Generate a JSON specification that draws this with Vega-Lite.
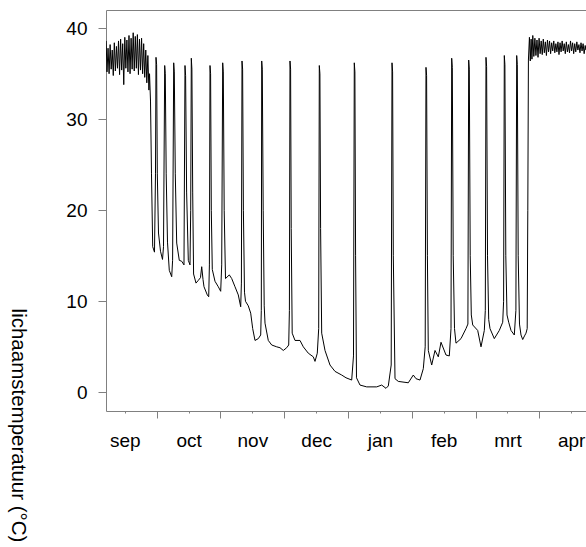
{
"$schema": "https://vega.github.io/schema/vega-lite/v6.json",
"width": 480,
"height": 401,
"autosize": {"type": "none"},
"padding": {"left": 106, "top": 10, "right": 0, "bottom": 136},
"background": "white",
"config": {"view": {"stroke": null}, "font": "Liberation Sans"},
"resolve": {"axis": {"x": "independent"}},
"layer": [
{
"data": {"values": [
{"day":6.3,"temp":38.6},{"day":6.7,"temp":35.2},{"day":7.2,"temp":37.8},{"day":7.7,"temp":35.0},{"day":8.2,"temp":38.2},{"day":8.7,"temp":35.5},{"day":9.2,"temp":37.6},{"day":9.7,"temp":34.8},{"day":10.2,"temp":38.4},{"day":10.7,"temp":35.3},{"day":11.2,"temp":38.0},{"day":11.7,"temp":35.6},{"day":12.2,"temp":38.6},{"day":12.7,"temp":34.9},{"day":13.2,"temp":38.8},{"day":13.7,"temp":35.4},{"day":14.2,"temp":38.3},{"day":14.7,"temp":33.8},{"day":15.2,"temp":39.0},{"day":15.7,"temp":35.6},{"day":16.2,"temp":38.7},{"day":16.7,"temp":35.2},{"day":17.2,"temp":39.2},{"day":17.7,"temp":35.0},{"day":18.2,"temp":38.9},{"day":18.7,"temp":35.5},{"day":19.2,"temp":39.5},{"day":19.7,"temp":35.3},{"day":20.2,"temp":39.1},{"day":20.7,"temp":35.6},{"day":21.2,"temp":39.3},{"day":21.7,"temp":34.9},{"day":22.2,"temp":38.8},{"day":22.7,"temp":35.4},{"day":23.2,"temp":38.9},{"day":23.7,"temp":35.0},{"day":24.2,"temp":38.3},{"day":24.7,"temp":34.6},{"day":25.2,"temp":37.6},{"day":25.7,"temp":34.0},{"day":26.2,"temp":37.0},{"day":26.7,"temp":33.2},{"day":27.0,"temp":35.0},
{"day":27.46,"temp":32.0},{"day":27.93,"temp":24.0},{"day":28.51,"temp":16.0},{"day":29.36,"temp":15.4},{"day":29.84,"temp":24.0},{"day":30.08,"temp":36.8},{"day":30.37,"temp":36.0},{"day":30.7,"temp":24.0},{"day":31.27,"temp":17.5},{"day":32.23,"temp":15.5},{"day":33.18,"temp":14.6},{"day":33.66,"temp":16.0},
{"day":34.23,"temp":35.9},{"day":34.51,"temp":35.0},{"day":34.94,"temp":24.0},{"day":35.56,"temp":16.5},{"day":36.42,"temp":13.4},{"day":37.57,"temp":12.7},{"day":38.0,"temp":14.5},
{"day":38.52,"temp":36.2},{"day":38.81,"temp":35.2},{"day":39.28,"temp":24.0},{"day":39.95,"temp":16.4},{"day":41.19,"temp":14.5},{"day":42.34,"temp":14.4},{"day":43.43,"temp":14.0},
{"day":43.91,"temp":35.9},{"day":44.2,"temp":34.8},{"day":44.68,"temp":22.0},{"day":45.49,"temp":14.5},{"day":46.3,"temp":14.0},{"day":46.63,"temp":20.0},
{"day":46.92,"temp":36.7},{"day":47.2,"temp":35.5},{"day":47.58,"temp":22.0},{"day":48.01,"temp":13.0},{"day":49.16,"temp":12.0},{"day":50.26,"temp":12.3},{"day":51.3,"temp":12.6},{"day":51.88,"temp":13.8},{"day":52.5,"temp":12.4},{"day":52.97,"temp":11.6},{"day":54.55,"temp":10.7},{"day":55.22,"temp":10.5},{"day":55.55,"temp":14.0},
{"day":55.84,"temp":35.9},{"day":56.12,"temp":35.0},{"day":56.46,"temp":20.0},{"day":56.93,"temp":13.5},{"day":58.22,"temp":12.2},{"day":59.79,"temp":11.6},{"day":60.94,"temp":11.1},{"day":61.42,"temp":14.0},
{"day":61.89,"temp":36.2},{"day":62.18,"temp":35.2},{"day":62.61,"temp":20.0},{"day":63.23,"temp":12.5},{"day":65.04,"temp":12.9},{"day":66.19,"temp":12.5},{"day":67.76,"temp":11.6},{"day":69.33,"temp":10.7},{"day":70.48,"temp":9.4},{"day":70.81,"temp":12.0},
{"day":71.1,"temp":36.4},{"day":71.39,"temp":35.5},{"day":71.77,"temp":20.0},{"day":72.29,"temp":11.0},{"day":72.77,"temp":10.0},{"day":74.1,"temp":9.5},{"day":75.25,"temp":8.7},{"day":76.2,"temp":7.0},{"day":77.3,"temp":5.7},{"day":78.87,"temp":5.9},{"day":80.02,"temp":6.3},{"day":80.31,"temp":9.0},
{"day":80.5,"temp":36.4},{"day":80.78,"temp":35.5},{"day":81.21,"temp":20.0},{"day":81.69,"temp":9.5},{"day":82.07,"temp":7.6},{"day":83.64,"temp":5.7},{"day":85.27,"temp":5.2},{"day":87.65,"temp":5.0},{"day":89.22,"temp":4.9},{"day":90.8,"temp":4.6},{"day":92.42,"temp":4.9},{"day":93.38,"temp":5.2},{"day":93.71,"temp":9.0},
{"day":93.99,"temp":36.4},{"day":94.28,"temp":35.5},{"day":94.57,"temp":18.0},{"day":95.04,"temp":6.5},{"day":96.38,"temp":5.7},{"day":98.76,"temp":5.7},{"day":100.34,"temp":5.0},{"day":102.72,"temp":4.3},{"day":105.11,"temp":3.9},{"day":105.92,"temp":3.4},{"day":107.01,"temp":4.3},{"day":107.68,"temp":7.0},
{"day":107.97,"temp":35.9},{"day":108.26,"temp":35.0},{"day":108.59,"temp":18.0},{"day":109.11,"temp":6.5},{"day":110.69,"temp":4.6},{"day":113.07,"temp":3.0},{"day":115.46,"temp":2.3},{"day":118.65,"temp":1.9},{"day":120.71,"temp":1.6},{"day":123.42,"temp":1.35},{"day":124.28,"temp":4.0},
{"day":124.66,"temp":36.2},{"day":124.95,"temp":35.2},{"day":125.28,"temp":15.0},{"day":125.71,"temp":1.6},{"day":127.38,"temp":0.8},{"day":130.58,"temp":0.6},{"day":135.35,"temp":0.6},{"day":137.73,"temp":0.8},{"day":139.78,"temp":0.44},{"day":140.88,"temp":0.7},{"day":142.26,"temp":3.0},
{"day":142.65,"temp":36.2},{"day":142.93,"temp":35.2},{"day":143.27,"temp":15.0},{"day":144.08,"temp":1.5},{"day":145.65,"temp":1.2},{"day":150.42,"temp":1.05},{"day":152.81,"temp":1.9},{"day":154.09,"temp":1.5},{"day":156.0,"temp":1.35},{"day":157.58,"temp":2.6},{"day":158.48,"temp":5.0},
{"day":158.86,"temp":35.7},{"day":159.15,"temp":34.8},{"day":159.53,"temp":15.0},{"day":159.96,"temp":4.6},{"day":161.58,"temp":3.0},{"day":163.16,"temp":4.6},{"day":164.73,"temp":3.9},{"day":166.02,"temp":5.5},{"day":168.4,"temp":4.1},{"day":169.98,"temp":4.0},{"day":170.79,"temp":7.0},
{"day":171.12,"temp":36.7},{"day":171.41,"temp":35.7},{"day":171.84,"temp":15.0},{"day":172.46,"temp":7.0},{"day":173.17,"temp":5.4},{"day":175.56,"temp":5.9},{"day":177.94,"temp":7.0},{"day":178.85,"temp":7.5},
{"day":179.23,"temp":36.5},{"day":179.52,"temp":35.5},{"day":179.95,"temp":15.0},{"day":180.47,"temp":8.5},{"day":181.14,"temp":7.4},{"day":183.52,"temp":6.8},{"day":185.1,"temp":5.0},{"day":186.68,"temp":6.8},{"day":187.15,"temp":9.0},
{"day":187.48,"temp":36.8},{"day":187.77,"temp":35.8},{"day":188.2,"temp":15.0},{"day":188.77,"temp":8.0},{"day":189.39,"temp":7.0},{"day":191.44,"temp":5.9},{"day":193.83,"temp":6.8},{"day":195.45,"temp":7.7},{"day":195.88,"temp":10.0},
{"day":196.21,"temp":37.0},{"day":196.5,"temp":36.0},{"day":196.93,"temp":15.0},{"day":197.5,"temp":8.5},{"day":198.31,"temp":7.7},{"day":199.41,"temp":6.8},{"day":200.98,"temp":6.3},{"day":201.74,"temp":9.0},
{"day":202.12,"temp":37.0},{"day":202.41,"temp":36.0},{"day":202.84,"temp":15.0},{"day":203.46,"temp":7.5},{"day":204.18,"temp":6.3},{"day":204.99,"temp":5.8},{"day":205.85,"temp":6.2},{"day":206.56,"temp":6.5},{"day":207.13,"temp":7.0},{"day":207.42,"temp":20.0},{"day":207.71,"temp":36.5},
{"day":208.2,"temp":39.0},{"day":208.6,"temp":36.4},{"day":209.0,"temp":38.8},{"day":209.4,"temp":36.6},{"day":209.8,"temp":39.2},{"day":210.3,"temp":36.9},{"day":210.8,"temp":38.9},{"day":211.3,"temp":37.0},{"day":211.8,"temp":38.7},{"day":212.3,"temp":36.8},{"day":212.8,"temp":38.9},{"day":213.3,"temp":37.2},{"day":213.8,"temp":38.6},{"day":214.3,"temp":37.1},{"day":214.8,"temp":38.8},{"day":215.3,"temp":37.3},{"day":215.8,"temp":38.5},{"day":216.3,"temp":37.0},{"day":216.8,"temp":38.7},{"day":217.3,"temp":37.4},{"day":217.8,"temp":38.6},{"day":218.3,"temp":37.2},{"day":218.8,"temp":38.4},{"day":219.3,"temp":37.5},{"day":219.8,"temp":38.6},{"day":220.3,"temp":37.3},{"day":220.8,"temp":38.3},{"day":221.3,"temp":37.4},{"day":221.8,"temp":38.5},{"day":222.3,"temp":37.1},{"day":222.8,"temp":38.4},{"day":223.3,"temp":37.4},{"day":223.8,"temp":38.6},{"day":224.3,"temp":37.5},{"day":224.8,"temp":38.3},{"day":225.3,"temp":37.2},{"day":225.8,"temp":38.5},{"day":226.3,"temp":37.4},{"day":226.8,"temp":38.2},{"day":227.3,"temp":37.3},{"day":227.8,"temp":38.6},{"day":228.3,"temp":37.5},{"day":228.8,"temp":38.4},{"day":229.3,"temp":37.2},{"day":229.8,"temp":38.3},{"day":230.3,"temp":37.4},{"day":230.8,"temp":38.5},{"day":231.3,"temp":37.6},{"day":231.8,"temp":38.2},{"day":232.3,"temp":37.3},{"day":232.8,"temp":38.4},{"day":233.3,"temp":37.5},{"day":233.8,"temp":38.3},{"day":234.3,"temp":37.2},{"day":234.8,"temp":38.1},{"day":235.1,"temp":37.6}
]},
"mark": {"type": "line", "color": "#000000", "strokeWidth": 1, "clip": true},
"encoding": {
"x": {"field": "day", "type": "quantitative", "scale": {"domain": [6.23, 235.18], "nice": false, "zero": false},
"axis": {"orient": "bottom", "values": [30.4167, 60.8333, 91.25, 121.6667, 152.0833, 182.5, 212.9167], "labels": false, "tickSize": 7, "domainColor": "#808080", "tickColor": "#808080", "title": null, "grid": false}},
"y": {"field": "temp", "type": "quantitative", "scale": {"domain": [-2.05, 42.0], "nice": false, "zero": false},
"axis": {"values": [0, 10, 20, 30, 40], "tickSize": 8, "labelPadding": 11, "labelFontSize": 19, "labelColor": "#000000", "labelFont": "Liberation Sans", "domainColor": "#808080", "tickColor": "#808080", "grid": false, "labelFlush": false, "labelOverlap": false,
"title": "lichaamstemperatuur (°C)", "titleAngle": 90, "titleX": -95, "titleY": 415, "titleAlign": "center", "titleBaseline": "alphabetic", "titleFontSize": 20.5, "titleFontWeight": "normal", "titleColor": "#000000", "titleFont": "Liberation Sans"}}
}
},
{
"data": {"values": [{"day": 15.2083}]},
"mark": {"type": "rule", "opacity": 0},
"encoding": {
"x": {"field": "day", "type": "quantitative", "scale": {"domain": [6.23, 235.18], "nice": false, "zero": false},
"axis": {"orient": "bottom", "values": [15.2083, 45.625, 76.0417, 106.4583, 136.875, 167.2917, 197.7083, 228.125],
"labelExpr": "['sep','oct','nov','dec','jan','feb','mrt','apr'][floor(datum.value/30.4167)]",
"domain": false, "tickSize": 2, "tickColor": "#808080", "labelPadding": 18, "labelFontSize": 19, "labelColor": "#000000", "labelFont": "Liberation Sans", "title": null, "grid": false, "labelOverlap": false, "labelFlush": false}}
}
},
{
"data": {"values": [{"day": 228.125}]},
"mark": {"type": "rule", "opacity": 0},
"encoding": {
"x": {"field": "day", "type": "quantitative", "scale": {"domain": [6.23, 235.18], "nice": false, "zero": false},
"axis": {"orient": "top", "labels": false, "ticks": false, "domain": true, "domainColor": "#808080", "title": null, "grid": false}}
}
}
]
}
